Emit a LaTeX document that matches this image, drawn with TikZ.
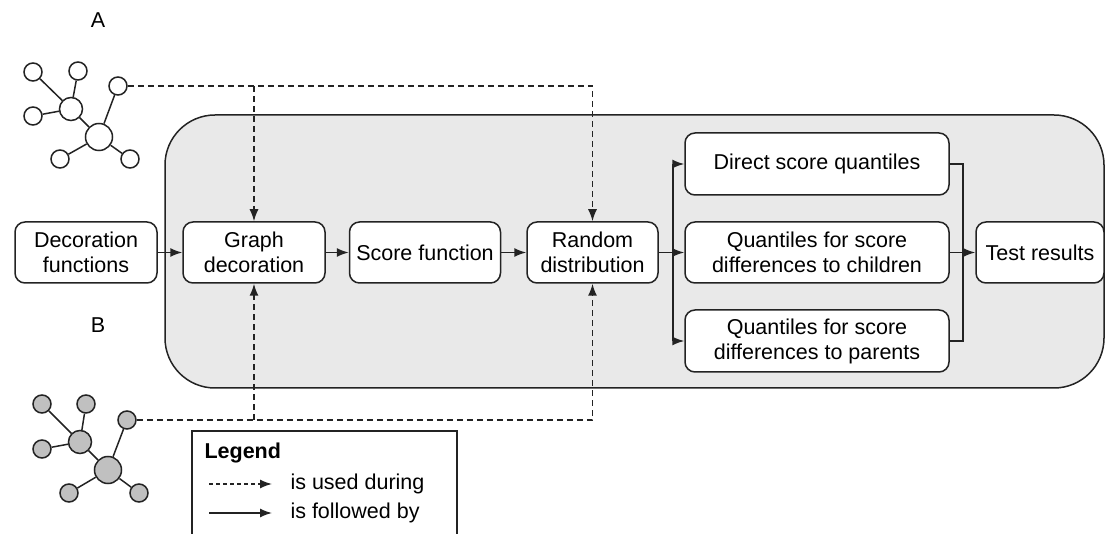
\documentclass[tikz,border=0pt]{standalone}
\usepackage{fontspec}
\setmainfont{Liberation Sans}
\usetikzlibrary{arrows.meta}
\definecolor{linec}{RGB}{35,35,35}
\definecolor{bgc}{RGB}{233,233,233}
\definecolor{nodeb}{RGB}{192,192,192}
\begin{document}
\begin{tikzpicture}[x=1pt,y=-1pt,
  txt/.style={font=\fontsize{21.5}{25}\selectfont},
  box/.style={draw=linec, line width=1.5pt, rounded corners=10pt, fill=white, align=center, txt, inner sep=0pt},
  tip/.style={-{Latex[length=12pt,width=9pt]}},
  arr/.style={draw=linec, line width=1.5pt, tip},
  ln/.style={draw=linec, line width=1.5pt},
  dsh/.style={draw=linec, line width=1.5pt, dash pattern=on 6pt off 4pt},
  gn/.style={circle, draw=linec, line width=1.5pt, fill=white, inner sep=0pt, minimum size=18pt},
  gm/.style={gn, minimum size=23pt},
  gb/.style={gn, minimum size=27pt},
  gfill/.style={fill=nodeb}]
\useasboundingbox (0,0) rectangle (1106,534);
% background panel
\node[draw=linec, line width=1.5pt, fill=bgc, rounded corners=50pt, minimum width=939pt, minimum height=273pt, inner sep=0pt] (bg) at (634.5,251.5) {};
% labels
\node[txt] (la) at (98,20) {A};
\node[txt] (lb) at (98,325) {B};
% graph A
\node[gn] (a1) at (33,72) {};
\node[gn] (a2) at (78,71) {};
\node[gn] (a3) at (33,116) {};
\node[gn] (a4) at (118,86) {};
\node[gm] (am) at (71,109) {};
\node[gb] (ab) at (99,137) {};
\node[gn] (a5) at (60,159) {};
\node[gn] (a6) at (130,159) {};
\draw[ln] (am) -- (a1);
\draw[ln] (am) -- (a2);
\draw[ln] (am) -- (a3);
\draw[ln] (am) -- (ab);
\draw[ln] (ab) -- (a4);
\draw[ln] (ab) -- (a5);
\draw[ln] (ab) -- (a6);
% graph B
\node[gn,gfill] (b1) at (42,404) {};
\node[gn,gfill] (b2) at (86,404) {};
\node[gn,gfill] (b3) at (42,449) {};
\node[gn,gfill] (b4) at (127,420) {};
\node[gm,gfill] (bm) at (80,442) {};
\node[gb,gfill] (bb) at (108,470) {};
\node[gn,gfill] (b5) at (69,493) {};
\node[gn,gfill] (b6) at (139,493) {};
\draw[ln] (bm) -- (b1);
\draw[ln] (bm) -- (b2);
\draw[ln] (bm) -- (b3);
\draw[ln] (bm) -- (bb);
\draw[ln] (bb) -- (b4);
\draw[ln] (bb) -- (b5);
\draw[ln] (bb) -- (b6);
% boxes
\node[box, minimum width=142pt, minimum height=61pt] (df) at (86,252.5) {Decoration\\functions};
\node[box, minimum width=142pt, minimum height=61pt] (gd) at (254,252.5) {Graph\\decoration};
\node[box, minimum width=151pt, minimum height=61pt] (sf) at (425,252.5) {Score function};
\node[box, minimum width=131pt, minimum height=61pt] (rd) at (592.5,252.5) {Random\\distribution};
\node[box, minimum width=264pt, minimum height=62pt] (dq) at (817,164) {Direct score quantiles};
\node[box, minimum width=264pt, minimum height=61pt] (ch) at (817,252.5) {Quantiles for score\\differences to children};
\node[box, minimum width=264pt, minimum height=62pt] (pa) at (817,341) {Quantiles for score\\differences to parents};
\node[box, minimum width=128pt, minimum height=61pt] (tr) at (1040,252.5) {Test results};
% main flow
\draw[arr] (df) -- (gd);
\draw[arr] (gd) -- (sf);
\draw[arr] (sf) -- (rd);
\coordinate (sp) at (673,252.5);
\coordinate (mg) at (963,252.5);
\draw[arr] (rd.east) -- (ch.west);
\draw[arr] (sp) |- (dq.west);
\draw[arr] (sp) |- (pa.west);
\draw[ln] (dq.east) -| (mg);
\draw[ln] (pa.east) -| (mg);
\draw[arr] (ch.east) -- (tr.west);
% dashed "used during"
\draw[dsh, tip] (a4.east) -| (rd.north);
\coordinate (ja) at (gd.north |- a4.east);
\draw[dsh, tip] (ja) -- (gd.north);
\draw[dsh, tip] (b4.east) -| (rd.south);
\coordinate (jb) at (gd.south |- b4.east);
\draw[dsh, tip] (jb) -- (gd.south);
% legend
\node[draw=linec, line width=1.5pt, fill=white, minimum width=265pt, minimum height=130pt, inner sep=0pt] (lg) at (324.5,496) {};
\node[txt, anchor=west, font=\fontsize{21.5}{25}\selectfont\bfseries] (lgt) at (201,453) {Legend};
\coordinate (l1a) at (209,484);
\coordinate (l1b) at (272,484);
\coordinate (l2a) at (209,513);
\coordinate (l2b) at (272,513);
\draw[dsh, dash pattern=on 4pt off 3pt, tip] (l1a) -- (l1b);
\draw[arr] (l2a) -- (l2b);
\node[txt, anchor=west] (lt1) at (287,484) {is used during};
\node[txt, anchor=west] (lt2) at (287,513) {is followed by};
\end{tikzpicture}
\end{document}
